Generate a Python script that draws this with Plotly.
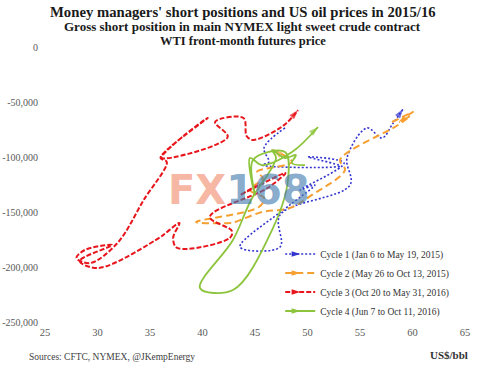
import plotly.graph_objects as go

# ---- data (WTI price US$/bbl, gross short position in contracts) ----
c1_price = [47.86, 45.86, 46.33, 45.67, 53.10, 50.05, 53.48, 49.29, 50.71, 48.33, 43.57,
            47.38, 47.38, 54.05, 53.76, 55.67, 57.10, 58.10, 59.10]
c1_short = [-73600, -91800, -104500, -107300, -108200, -100000, -105500, -130000, -125500,
            -143600, -181800, -181800, -152700, -125500, -100900, -73600, -82700, -70000, -56400]

c2_price = [58.05, 60.05, 59.29, 58.81, 59.76, 58.62, 53.10, 53.57, 50.43, 48.33, 45.67,
            43.10, 42.62, 39.38, 45.38, 45.86, 44.52, 45.76, 45.19, 48.52, 46.71]
c2_short = [-68200, -59100, -63600, -68200, -62700, -70900, -102700, -111800, -134500,
            -146400, -150000, -159100, -160000, -159100, -145500, -137300, -130000, -119100,
            -113600, -104500, -93600]

c3_price = [45.3, 43.6, 47.9, 46.2, 40.7, 42.8, 42.6, 37.6, 37.2, 37.8, 36.5, 36.0, 30.1,
            28.3, 31.4, 28.8, 28.0, 29.3, 31.9, 34.4, 36.6, 36.0, 40.5, 38.3, 36.1, 42.4,
            41.2, 43.9, 44.2, 44.8, 46.9, 48.1, 49.1]
c3_short = [-125500, -134500, -114500, -128200, -154500, -167300, -173600, -182700, -173600,
            -160000, -169100, -172700, -200900, -194500, -180000, -184500, -191800, -196400,
            -178200, -139100, -104500, -100900, -64500, -80000, -100900, -81800, -68200,
            -64500, -80900, -84500, -76400, -68200, -57300]

c4_price = [49.76, 48.52, 48.90, 47.86, 46.62, 47.00, 44.62, 42.90, 39.76, 42.90, 46.62,
            48.14, 47.86, 44.81, 45.00, 44.52, 45.67, 48.52, 51.00]
c4_short = [-107300, -105500, -98200, -100900, -93600, -100900, -139100, -175500, -219100,
            -220900, -166400, -120900, -95500, -102700, -134500, -100900, -107300, -95500,
            -72700]

series_names = ["Cycle 1 (Jan 6 to May 19, 2015)", "Cycle 2 (May 26 to Oct 13, 2015)",
                "Cycle 3 (Oct 20 to May 31, 2016)", "Cycle 4 (Jun 7 to Oct 11, 2016)"]

x_ticks = [25, 30, 35, 40, 45, 50, 55, 60, 65]
y_tickvals = [0, -50000, -100000, -150000, -200000, -250000]
y_ticktext = ["0", "-50,000", "-100,000", "-150,000", "-200,000", "-250,000"]

# ---- styles ----
styles = [
    dict(color="#3434D0", width=1.6, dash="2px,2px"),
    dict(color="#F5A030", width=2.0, dash="7px,4px"),
    dict(color="#E8161C", width=2.0, dash="5px,2px"),
    dict(color="#8CC43C", width=1.8, dash="solid"),
]

SERIF = "Liberation Serif"
fig = go.Figure()

series = [(c1_price, c1_short), (c2_price, c2_short), (c3_price, c3_short), (c4_price, c4_short)]
for (px, sy), st, name in zip(series, styles, series_names):
    n = len(px)
    fig.add_trace(go.Scatter(
        x=px, y=sy, mode="lines+markers", name=name, showlegend=False,
        line=dict(color=st["color"], width=st["width"], dash=st["dash"], shape="spline", smoothing=1.0),
        marker=dict(symbol="arrow", angleref="previous", size=[0] * (n - 1) + [10],
                    color=st["color"], line=dict(width=0)),
        hoverinfo="skip",
    ))

# legend entries
for st, name in zip(styles, series_names):
    fig.add_trace(go.Scatter(
        x=[None], y=[None], mode="lines+markers", name=name,
        line=dict(color=st["color"], width=st["width"], dash=st["dash"]),
        marker=dict(symbol="arrow", angle=90, size=9, color=st["color"], line=dict(width=0)),
    ))

annotations = [
    dict(text="<b>Money managers' short positions and US oil prices in 2015/16</b>",
         x=0.471, y=1.127, font=dict(size=14.7, family=SERIF, color="#1a1a1a")),
    dict(text="<b>Gross short position in main NYMEX light sweet crude contract</b>",
         x=0.471, y=1.073, font=dict(size=13, family=SERIF, color="#1a1a1a")),
    dict(text="<b>WTI front-month futures price</b>",
         x=0.471, y=1.022, font=dict(size=12.5, family=SERIF, color="#1a1a1a")),
    dict(text="Sources: CFTC, NYMEX, @JKempEnergy", x=-0.043, y=-0.127, xanchor="left",
         font=dict(size=9.5, family=SERIF, color="#404040")),
    dict(text="<b>US$/bbl</b>", x=1.012, y=-0.12, xanchor="right",
         font=dict(size=11, family=SERIF, color="#333")),
    dict(text="<b><span style='color:rgba(242,140,110,0.65)'>FX</span>"
              "<span style='color:rgba(70,125,175,0.65)'>168</span></b>",
         x=0.462, y=0.48, font=dict(size=40, family="DejaVu Sans", color="#999"),
         ),
]
for a in annotations:
    a.setdefault("xanchor", "center")
    a.update(xref="paper", yref="paper", yanchor="middle", showarrow=False)

fig.update_layout(
    width=485, height=376,
    margin=dict(l=45, r=20, t=47, b=54),
    paper_bgcolor="white", plot_bgcolor="white",
    font=dict(family=SERIF, size=10, color="#595959"),
    xaxis=dict(range=[25, 65], tickvals=x_ticks, showgrid=False, zeroline=False,
               showline=False, ticks="", ticklabelstandoff=2, automargin=False,
               tickfont=dict(size=10.5, family=SERIF, color="#595959")),
    yaxis=dict(range=[-250000, 0], tickvals=y_tickvals, ticktext=y_ticktext, showgrid=False,
               zeroline=False, showline=False, ticks="", ticklabelstandoff=6, automargin=False,
               tickfont=dict(size=10, family=SERIF, color="#595959")),
    legend=dict(x=0.56, y=0.30, xanchor="left", yanchor="top", bgcolor="rgba(0,0,0,0)",
                font=dict(size=9.5, family=SERIF, color="#333"), tracegroupgap=0,
                itemwidth=30),
    annotations=annotations,
)

# remove the default 8px page margin so the figure fills the window exactly
fig.write_html("out.html", config={"displayModeBar": False},
               post_script="document.body.style.margin='0';")
